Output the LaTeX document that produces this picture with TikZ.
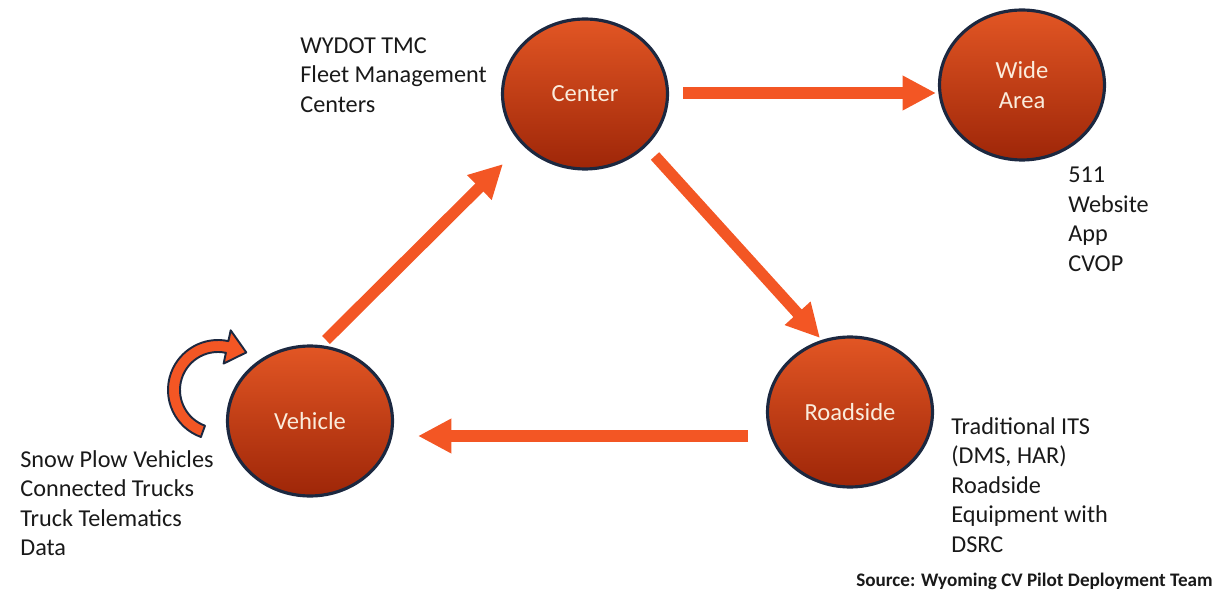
\documentclass[tikz,border=0pt]{standalone}
\usepackage{fontspec}
\setmainfont{Carlito}
\usetikzlibrary{arrows.meta,shapes.geometric,calc}
\definecolor{arr}{RGB}{243,86,36}
\definecolor{rim}{RGB}{28,40,64}
\definecolor{ctop}{RGB}{226,86,36}
\definecolor{cbot}{RGB}{158,38,8}
\definecolor{lbl}{RGB}{250,236,220}
\definecolor{txt}{RGB}{25,25,25}
\tikzset{
  ball/.style={ellipse, minimum width=3.3cm, minimum height=3.0cm, inner sep=0pt,
    top color=ctop, bottom color=cbot, draw=rim, line width=1.8pt,
    text=lbl, align=center, font=\fontsize{14}{17}\selectfont},
  bigarrow/.style={draw=arr, line width=6.4pt, -{Triangle[length=19pt,width=18.5pt]}},
  note/.style={anchor=north west, inner sep=0pt, align=left, text=txt,
    font=\fontsize{13.8}{16.8}\selectfont},
  curv/.style={fill=arr, draw=rim, line width=1.1pt, line join=round}
}
\begin{document}
\begin{tikzpicture}[x=0.02cm,y=-0.02cm]
\useasboundingbox (0,0) rectangle (1217,591);
\node[ball] (center) at (585,94) {Center};
\node[ball] (wide) at (1022,85) {Wide\\Area};
\node[ball] (vehicle) at (310,421) {Vehicle};
\node[ball] (road) at (850,412) {Roadside};

\draw[bigarrow] ($(center)+(98,-1)$) -- ($(wide)+(-86,8)$);
\draw[bigarrow] ($(center)+(70,62)$) -- ($(road)+(-30,-74)$);
\draw[bigarrow] ($(road)+(-102,24)$) -- ($(vehicle)+(108,15)$);
\draw[bigarrow] ($(vehicle)+(16,-81)$) -- ($(center)+(-82,70)$);

\coordinate (cc) at (218,390);
\path[curv] ($(cc)+(-250:50)$) arc[start angle=-250, end angle=-78, radius=50]
  -- ($(cc)+(-78:61)$) -- ($(cc)+(-53:47)$) -- ($(cc)+(-78:27)$)
  -- ($(cc)+(-78:38)$) arc[start angle=-78, end angle=-250, radius=38] -- cycle;

\node[note] (tmc) at (300,37) {WYDOT TMC\\Fleet Management\\Centers};
\node[note] (wa) at (1068,167) {511\\Website\\App\\CVOP};
\node[note] (its) at (951,417) {Traditional ITS\\(DMS, HAR)\\Roadside\\Equipment with\\DSRC};
\node[note] (veh) at (20,450) {Snow Plow Vehicles\\Connected Trucks\\Truck Telematics\\Data};
\node[anchor=base east, inner sep=0pt, text=txt, font=\fontsize{10.9}{12}\selectfont\bfseries] (src) at (1213,586) {Source: Wyoming CV Pilot Deployment Team};
\end{tikzpicture}
\end{document}
